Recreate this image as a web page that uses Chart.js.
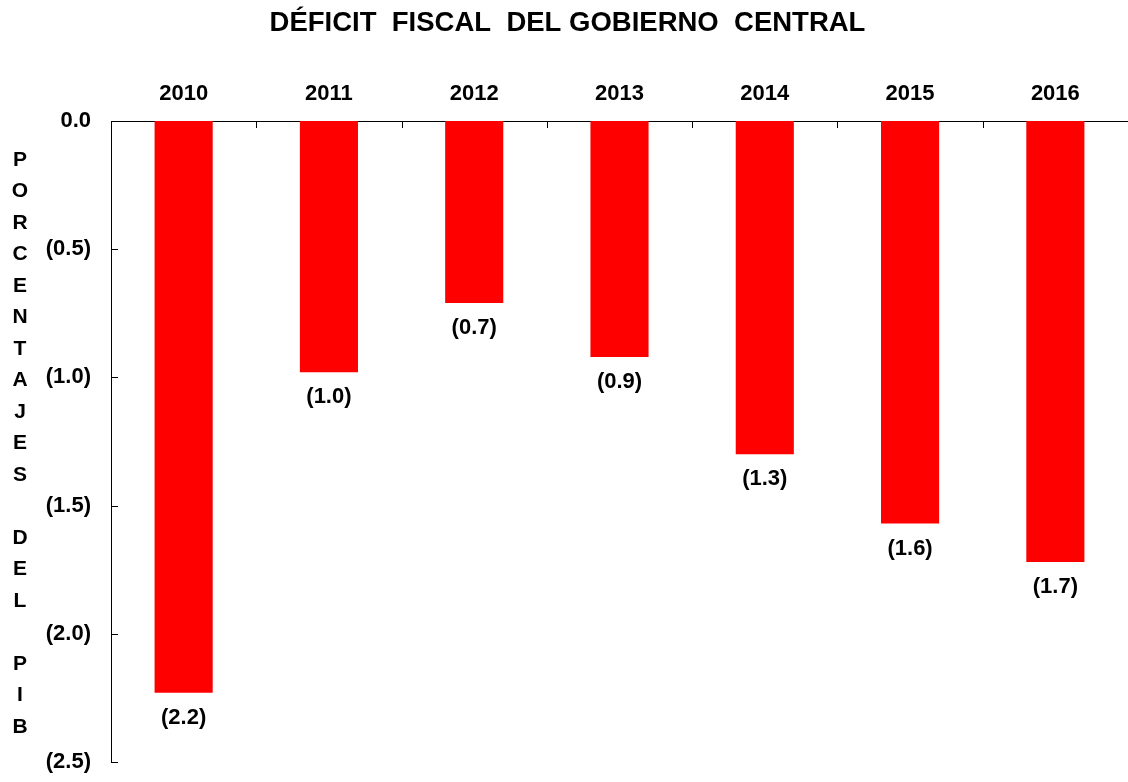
<!DOCTYPE html>
<html lang="es">
<head>
    <meta charset="UTF-8">
    <title>Déficit fiscal del gobierno central</title>
    <script src="https://cdn.jsdelivr.net/npm/chart.js@4.4.1/dist/chart.umd.min.js"></script>
    <style>
        body {
            margin: 0;
            background: #fff;
            font-family: "Liberation Sans", Arial, sans-serif;
        }
        #wrap {
            width: 1128px;
            height: 782px;
            position: relative;
        }
    </style>
</head>
<body>
    <div id="wrap"><canvas id="deficitChart"></canvas></div>

    <script>
        // Datos del gráfico (porcentajes del PIB)
        const years = ['2010', '2011', '2012', '2013', '2014', '2015', '2016'];
        const deficit = [-2.23, -0.98, -0.71, -0.92, -1.30, -1.57, -1.72];
        const axisLetters = ['P', 'O', 'R', 'C', 'E', 'N', 'T', 'A', 'J', 'E', 'S', '', 'D', 'E', 'L', '', 'P', 'I', 'B'];

        const FONT = '"Liberation Sans", Arial, sans-serif';

        function fmt(v) {
            if (v === 0) return '0.0';
            return '(' + Math.abs(v).toFixed(1) + ')';
        }

        // ticks hacia dentro del área del gráfico
        const innerTicks = {
            id: 'innerTicks',
            afterDraw(chart) {
                const ctx = chart.ctx;
                const x = chart.scales.x;
                const y = chart.scales.y;
                const area = chart.chartArea;
                ctx.save();
                ctx.strokeStyle = '#000';
                ctx.lineWidth = 1;
                ctx.beginPath();
                const step = (x.right - x.left) / years.length;
                for (let i = 1; i < years.length; i++) {
                    const px = Math.round(x.left + i * step) + 0.5;
                    ctx.moveTo(px, area.top);
                    ctx.lineTo(px, area.top + 7);
                }
                y.ticks.forEach(t => {
                    const py = Math.round(y.getPixelForValue(t.value)) + 0.5;
                    ctx.moveTo(area.left, py);
                    ctx.lineTo(area.left + 7, py);
                });
                ctx.stroke();
                ctx.restore();
            }
        };

        // etiquetas de valor bajo cada barra
        const valueLabels = {
            id: 'valueLabels',
            afterDatasetsDraw(chart) {
                const ctx = chart.ctx;
                const meta = chart.getDatasetMeta(0);
                ctx.save();
                ctx.font = 'bold 22px ' + FONT;
                ctx.fillStyle = '#000';
                ctx.textAlign = 'center';
                ctx.textBaseline = 'middle';
                meta.data.forEach((bar, i) => {
                    ctx.fillText(fmt(deficit[i]), bar.x, bar.y + 25);
                });
                ctx.restore();
            }
        };

        // título vertical con letras apiladas
        const stackedTitle = {
            id: 'stackedTitle',
            afterDraw(chart) {
                const ctx = chart.ctx;
                const area = chart.chartArea;
                const lh = 31.5;
                const mid = (area.top + area.bottom) / 2 + 2;
                const start = mid - (axisLetters.length - 1) * lh / 2;
                ctx.save();
                ctx.font = 'bold 21px ' + FONT;
                ctx.fillStyle = '#000';
                ctx.textAlign = 'center';
                ctx.textBaseline = 'middle';
                axisLetters.forEach((ch, i) => {
                    if (ch) ctx.fillText(ch, 20, start + i * lh);
                });
                ctx.restore();
            }
        };

        new Chart(document.getElementById('deficitChart'), {
            type: 'bar',
            data: {
                labels: years,
                datasets: [{
                    data: deficit,
                    backgroundColor: '#ff0000',
                    borderWidth: 0,
                    categoryPercentage: 1.0,
                    barPercentage: 0.4
                }]
            },
            options: {
                responsive: true,
                maintainAspectRatio: false,
                animation: false,
                layout: {
                    padding: { left: 0, right: -7, top: 0, bottom: 20 }
                },
                plugins: {
                    legend: { display: false },
                    tooltip: { enabled: false },
                    title: {
                        display: true,
                        text: 'DÉFICIT  FISCAL  DEL GOBIERNO  CENTRAL',
                        color: '#000',
                        font: { family: FONT, size: 27.5, weight: 'bold' },
                        padding: { top: 7, bottom: 10 }
                    }
                },
                scales: {
                    x: {
                        position: 'top',
                        grid: { display: false, drawTicks: false },
                        border: { display: true, color: '#000', width: 1 },
                        ticks: {
                            color: '#000',
                            font: { family: FONT, size: 22, weight: 'bold' },
                            padding: 14
                        },
                        afterFit(scale) { scale.height = 71; }
                    },
                    y: {
                        min: -2.5,
                        max: 0,
                        grid: { display: false, drawTicks: false },
                        border: { display: true, color: '#000', width: 1 },
                        ticks: {
                            stepSize: 0.5,
                            color: '#000',
                            font: { family: FONT, size: 22, weight: 'bold' },
                            padding: 20,
                            callback: v => fmt(v)
                        },
                        afterFit(scale) {
                            scale.width = 111;
                            scale.paddingTop = 0;
                            scale.paddingBottom = 0;
                        }
                    }
                }
            },
            plugins: [innerTicks, valueLabels, stackedTitle]
        });
    </script>
</body>
</html>
